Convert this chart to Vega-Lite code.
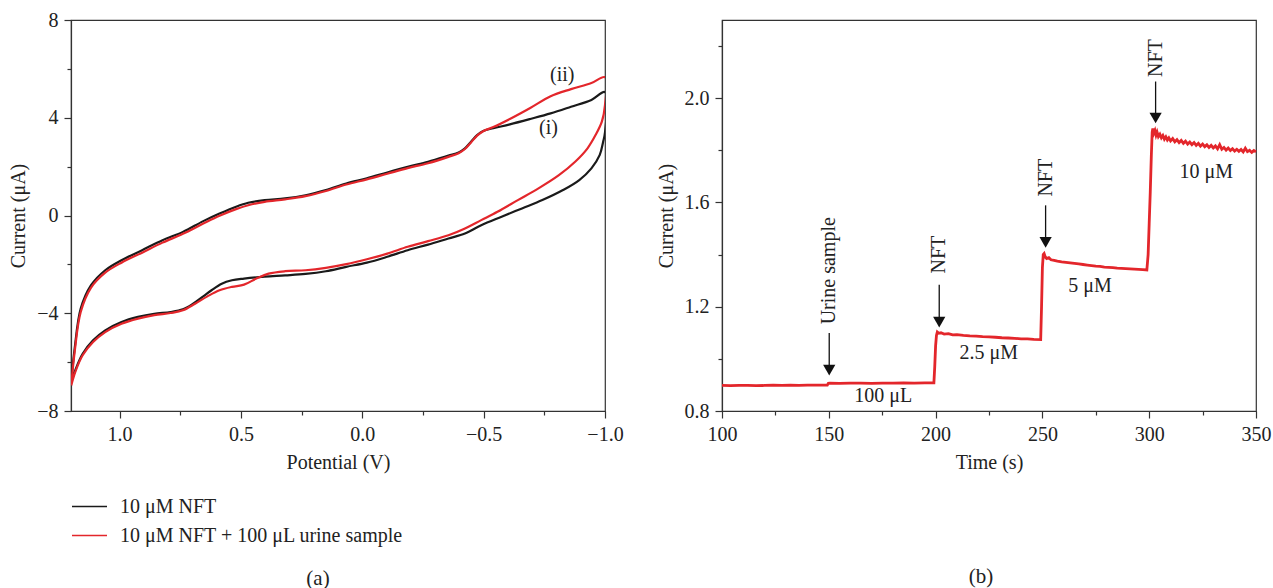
{
  "$schema": "https://vega.github.io/schema/vega-lite/v6.json",
  "padding": {"left": 8, "top": 9, "right": 0, "bottom": 0},
  "background": "white",
  "config": {
    "font": "Liberation Serif",
    "view": {"stroke": "#333333", "strokeWidth": 1.2},
    "axis": {
      "labelFont": "Liberation Serif", "titleFont": "Liberation Serif",
      "labelFontSize": 20, "titleFontSize": 20, "titleFontWeight": "normal",
      "labelColor": "#222222", "titleColor": "#222222",
      "domainColor": "#333333", "tickColor": "#333333", "domainWidth": 1.2, "tickWidth": 1.2,
      "grid": false, "labelPadding": 6, "labelFlush": false, "labelOverlap": false, "titlePadding": 8
    },
    "title": {"font": "Liberation Serif", "fontSize": 21, "fontWeight": "normal", "color": "#222222"}
  },
  "datasets": {
    "cv": [
      {"s":"i","v":1.199,"c":-6.82},{"s":"i","v":1.185,"c":-5.45},{"s":"i","v":1.16,"c":-3.81},{"s":"i","v":1.118,"c":-2.86},{"s":"i","v":1.059,"c":-2.24},{"s":"i","v":0.992,"c":-1.83},{"s":"i","v":0.907,"c":-1.42},{"s":"i","v":0.823,"c":-1.01},{"s":"i","v":0.739,"c":-0.67},{"s":"i","v":0.655,"c":-0.23},{"s":"i","v":0.588,"c":0.08},{"s":"i","v":0.52,"c":0.36},{"s":"i","v":0.47,"c":0.52},{"s":"i","v":0.402,"c":0.63},{"s":"i","v":0.318,"c":0.70},{"s":"i","v":0.234,"c":0.83},{"s":"i","v":0.15,"c":1.04},{"s":"i","v":0.066,"c":1.31},{"s":"i","v":-0.019,"c":1.52},{"s":"i","v":-0.103,"c":1.76},{"s":"i","v":-0.187,"c":1.99},{"s":"i","v":-0.271,"c":2.20},{"s":"i","v":-0.355,"c":2.45},{"s":"i","v":-0.397,"c":2.58},{"s":"i","v":-0.423,"c":2.75},{"s":"i","v":-0.448,"c":3.02},{"s":"i","v":-0.473,"c":3.29},{"s":"i","v":-0.498,"c":3.46},{"s":"i","v":-0.54,"c":3.57},{"s":"i","v":-0.608,"c":3.73},{"s":"i","v":-0.692,"c":3.95},{"s":"i","v":-0.776,"c":4.18},{"s":"i","v":-0.86,"c":4.45},{"s":"i","v":-0.944,"c":4.73},{"s":"i","v":-1.0,"c":5.05},
      {"s":"i","v":-1.0,"c":3.4},{"s":"i","v":-0.992,"c":3.0},{"s":"i","v":-0.978,"c":2.47},{"s":"i","v":-0.944,"c":1.93},{"s":"i","v":-0.894,"c":1.45},{"s":"i","v":-0.827,"c":1.04},{"s":"i","v":-0.742,"c":0.63},{"s":"i","v":-0.658,"c":0.29},{"s":"i","v":-0.574,"c":-0.05},{"s":"i","v":-0.49,"c":-0.40},{"s":"i","v":-0.423,"c":-0.74},{"s":"i","v":-0.355,"c":-0.94},{"s":"i","v":-0.271,"c":-1.19},{"s":"i","v":-0.187,"c":-1.42},{"s":"i","v":-0.103,"c":-1.69},{"s":"i","v":-0.019,"c":-1.93},{"s":"i","v":0.066,"c":-2.10},{"s":"i","v":0.15,"c":-2.28},{"s":"i","v":0.234,"c":-2.39},{"s":"i","v":0.318,"c":-2.45},{"s":"i","v":0.402,"c":-2.50},{"s":"i","v":0.487,"c":-2.58},{"s":"i","v":0.537,"c":-2.65},{"s":"i","v":0.579,"c":-2.79},{"s":"i","v":0.621,"c":-3.06},{"s":"i","v":0.655,"c":-3.31},{"s":"i","v":0.697,"c":-3.61},{"s":"i","v":0.739,"c":-3.84},{"s":"i","v":0.79,"c":-3.95},{"s":"i","v":0.857,"c":-4.02},{"s":"i","v":0.924,"c":-4.15},{"s":"i","v":0.992,"c":-4.36},{"s":"i","v":1.059,"c":-4.70},{"s":"i","v":1.109,"c":-5.11},{"s":"i","v":1.152,"c":-5.66},{"s":"i","v":1.18,"c":-6.27},{"s":"i","v":1.199,"c":-6.82},
      {"s":"ii","v":1.199,"c":-6.95},{"s":"ii","v":1.185,"c":-5.59},{"s":"ii","v":1.16,"c":-3.95},{"s":"ii","v":1.118,"c":-2.96},{"s":"ii","v":1.059,"c":-2.34},{"s":"ii","v":0.992,"c":-1.93},{"s":"ii","v":0.907,"c":-1.52},{"s":"ii","v":0.823,"c":-1.11},{"s":"ii","v":0.739,"c":-0.75},{"s":"ii","v":0.655,"c":-0.33},{"s":"ii","v":0.588,"c":-0.01},{"s":"ii","v":0.52,"c":0.26},{"s":"ii","v":0.47,"c":0.42},{"s":"ii","v":0.402,"c":0.56},{"s":"ii","v":0.318,"c":0.66},{"s":"ii","v":0.234,"c":0.79},{"s":"ii","v":0.15,"c":1.0},{"s":"ii","v":0.066,"c":1.27},{"s":"ii","v":-0.019,"c":1.48},{"s":"ii","v":-0.103,"c":1.71},{"s":"ii","v":-0.187,"c":1.94},{"s":"ii","v":-0.271,"c":2.14},{"s":"ii","v":-0.355,"c":2.40},{"s":"ii","v":-0.397,"c":2.55},{"s":"ii","v":-0.423,"c":2.72},{"s":"ii","v":-0.448,"c":2.99},{"s":"ii","v":-0.473,"c":3.27},{"s":"ii","v":-0.498,"c":3.45},{"s":"ii","v":-0.54,"c":3.62},{"s":"ii","v":-0.608,"c":3.95},{"s":"ii","v":-0.692,"c":4.40},{"s":"ii","v":-0.776,"c":4.88},{"s":"ii","v":-0.86,"c":5.17},{"s":"ii","v":-0.944,"c":5.42},{"s":"ii","v":-1.0,"c":5.66},
      {"s":"ii","v":-1.0,"c":4.52},{"s":"ii","v":-0.987,"c":3.84},{"s":"ii","v":-0.961,"c":3.29},{"s":"ii","v":-0.928,"c":2.75},{"s":"ii","v":-0.877,"c":2.20},{"s":"ii","v":-0.81,"c":1.65},{"s":"ii","v":-0.726,"c":1.11},{"s":"ii","v":-0.641,"c":0.63},{"s":"ii","v":-0.557,"c":0.15},{"s":"ii","v":-0.49,"c":-0.19},{"s":"ii","v":-0.423,"c":-0.53},{"s":"ii","v":-0.355,"c":-0.81},{"s":"ii","v":-0.271,"c":-1.05},{"s":"ii","v":-0.187,"c":-1.28},{"s":"ii","v":-0.103,"c":-1.56},{"s":"ii","v":-0.019,"c":-1.79},{"s":"ii","v":0.066,"c":-1.99},{"s":"ii","v":0.15,"c":-2.14},{"s":"ii","v":0.234,"c":-2.24},{"s":"ii","v":0.318,"c":-2.28},{"s":"ii","v":0.386,"c":-2.38},{"s":"ii","v":0.436,"c":-2.58},{"s":"ii","v":0.487,"c":-2.83},{"s":"ii","v":0.537,"c":-2.92},{"s":"ii","v":0.588,"c":-3.06},{"s":"ii","v":0.638,"c":-3.31},{"s":"ii","v":0.689,"c":-3.61},{"s":"ii","v":0.739,"c":-3.88},{"s":"ii","v":0.79,"c":-3.99},{"s":"ii","v":0.857,"c":-4.08},{"s":"ii","v":0.924,"c":-4.22},{"s":"ii","v":0.992,"c":-4.43},{"s":"ii","v":1.059,"c":-4.77},{"s":"ii","v":1.109,"c":-5.18},{"s":"ii","v":1.152,"c":-5.72},{"s":"ii","v":1.18,"c":-6.34},{"s":"ii","v":1.199,"c":-6.95}
    ],
    "cvlab": [
      {"v":-0.767,"c":3.6,"lab":"(i)"},
      {"v":-0.824,"c":5.76,"lab":"(ii)"}
    ],
    "ca": [
      {"t":100,"c":0.898},{"t":104,"c":0.897},{"t":108,"c":0.898},{"t":112,"c":0.898},{"t":116,"c":0.897},{"t":120,"c":0.898},{"t":124,"c":0.899},{"t":128,"c":0.898},{"t":132,"c":0.899},{"t":136,"c":0.898},{"t":140,"c":0.899},{"t":144,"c":0.899},{"t":149.3,"c":0.899},{"t":149.8,"c":0.906},{"t":150.5,"c":0.907},{"t":155,"c":0.906},{"t":160,"c":0.907},{"t":165,"c":0.907},{"t":170,"c":0.906},{"t":175,"c":0.907},{"t":180,"c":0.907},{"t":185,"c":0.908},{"t":190,"c":0.907},{"t":195,"c":0.908},{"t":199.2,"c":0.908},{"t":199.6,"c":0.97},{"t":200.0,"c":1.05},{"t":200.4,"c":1.09},{"t":200.8,"c":1.103},{"t":201.5,"c":1.098},{"t":202.5,"c":1.1},{"t":204,"c":1.095},{"t":206,"c":1.097},{"t":208,"c":1.092},{"t":210,"c":1.093},{"t":213,"c":1.09},{"t":216,"c":1.088},{"t":219,"c":1.087},{"t":222,"c":1.085},{"t":225,"c":1.084},{"t":228,"c":1.083},{"t":231,"c":1.081},{"t":234,"c":1.080},{"t":237,"c":1.079},{"t":240,"c":1.077},{"t":243,"c":1.077},{"t":246,"c":1.075},{"t":249.2,"c":1.074},{"t":249.6,"c":1.2},{"t":250.0,"c":1.35},{"t":250.4,"c":1.40},{"t":250.8,"c":1.404},{"t":251.3,"c":1.392},{"t":252,"c":1.385},{"t":253,"c":1.388},{"t":254,"c":1.38},{"t":255.5,"c":1.378},{"t":257,"c":1.375},{"t":259,"c":1.372},{"t":261,"c":1.37},{"t":263,"c":1.368},{"t":265,"c":1.366},{"t":267,"c":1.364},{"t":269,"c":1.362},{"t":271,"c":1.36},{"t":273,"c":1.358},{"t":275,"c":1.356},{"t":277,"c":1.355},{"t":279,"c":1.352},{"t":281,"c":1.351},{"t":283,"c":1.35},{"t":285,"c":1.348},{"t":287,"c":1.347},{"t":289,"c":1.346},{"t":291,"c":1.345},{"t":293,"c":1.344},{"t":295,"c":1.343},{"t":297,"c":1.342},{"t":298.9,"c":1.341},{"t":299.5,"c":1.4},{"t":300.0,"c":1.52},{"t":300.5,"c":1.64},{"t":301.0,"c":1.78},{"t":301.4,"c":1.87},{"t":301.7,"c":1.884},{"t":302.2,"c":1.866},{"t":302.7,"c":1.876},{"t":303.2,"c":1.858},{"t":303.7,"c":1.870},{"t":304.3,"c":1.853},{"t":305,"c":1.862},{"t":305.7,"c":1.848},{"t":306.4,"c":1.857},{"t":307.1,"c":1.843},{"t":307.8,"c":1.852},{"t":308.5,"c":1.84},{"t":309.2,"c":1.848},{"t":310,"c":1.836},{"t":311,"c":1.845},{"t":312,"c":1.833},{"t":313,"c":1.841},{"t":314,"c":1.83},{"t":315,"c":1.838},{"t":316,"c":1.827},{"t":317,"c":1.835},{"t":318,"c":1.824},{"t":319,"c":1.832},{"t":320,"c":1.822},{"t":321,"c":1.83},{"t":322,"c":1.819},{"t":323,"c":1.827},{"t":324,"c":1.816},{"t":325,"c":1.824},{"t":326,"c":1.814},{"t":327,"c":1.821},{"t":328,"c":1.811},{"t":329,"c":1.819},{"t":330,"c":1.809},{"t":331,"c":1.817},{"t":332,"c":1.806},{"t":333,"c":1.822},{"t":334,"c":1.804},{"t":335,"c":1.811},{"t":336,"c":1.801},{"t":337,"c":1.809},{"t":338,"c":1.799},{"t":339,"c":1.806},{"t":340,"c":1.797},{"t":341,"c":1.804},{"t":342,"c":1.796},{"t":343,"c":1.803},{"t":344,"c":1.794},{"t":345,"c":1.808},{"t":346,"c":1.795},{"t":347,"c":1.8},{"t":348,"c":1.792},{"t":349,"c":1.799},{"t":350,"c":1.794}
    ],
    "arrows": [
      {"t":150.2,"top":1.099,"head":0.957},
      {"t":201.7,"top":1.284,"head":1.141},
      {"t":251.5,"top":1.589,"head":1.447},
      {"t":303.0,"top":2.064,"head":1.924}
    ],
    "rot": [
      {"t":150.3,"c":1.338,"lab":"Urine sample"},
      {"t":201.8,"c":1.4,"lab":"NFT"},
      {"t":251.5,"c":1.695,"lab":"NFT"},
      {"t":303.0,"c":2.154,"lab":"NFT"}
    ],
    "flat": [
      {"t":175.5,"c":0.857,"lab":"100 μL"},
      {"t":224.9,"c":1.024,"lab":"2.5 μM"},
      {"t":272.3,"c":1.28,"lab":"5 μM"},
      {"t":326.7,"c":1.716,"lab":"10 μM"}
    ]
  },
  "hconcat": [
    {
      "width": 534,
      "height": 391,
      "title": {"text": "(a)", "orient": "bottom", "offset": 22, "dx": -20},
      "layer": [
        {
          "data": {"name": "cv"},
          "mark": {"type": "line", "strokeWidth": 2.2, "interpolate": "catmull-rom", "clip": true},
          "encoding": {
            "x": {
              "field": "v", "type": "quantitative",
              "scale": {"domain": [-1.0, 1.2], "reverse": true, "nice": false, "zero": false},
              "axis": {
                "title": "Potential (V)",
                "values": [1, 0.75, 0.5, 0.25, 0, -0.25, -0.5, -0.75, -1],
                "labelExpr": "abs(datum.value*2 - round(datum.value*2)) < 0.000001 ? format(datum.value, '.1f') : ''",
                "tickSize": {"condition": {"test": "abs(datum.value*2 - round(datum.value*2)) < 0.000001", "value": 7}, "value": 4}
              }
            },
            "y": {
              "field": "c", "type": "quantitative",
              "scale": {"domain": [-8, 8], "nice": false, "zero": false},
              "axis": {
                "title": "Current (μA)",
                "values": [-8, -6, -4, -2, 0, 2, 4, 6, 8],
                "labelExpr": "datum.value % 4 === 0 ? format(datum.value, 'd') : ''",
                "tickSize": {"condition": {"test": "datum.value % 4 === 0", "value": 7}, "value": 4}
              }
            },
            "color": {
              "field": "s", "type": "nominal",
              "scale": {"domain": ["i", "ii"], "range": ["#1a1a1a", "#e3262b"]},
              "legend": {
                "title": null, "orient": "none", "legendX": 0, "legendY": 468, "direction": "vertical",
                "symbolType": "stroke", "symbolSize": 1225, "symbolStrokeWidth": 1.6,
                "labelFont": "Liberation Serif", "labelFontSize": 20, "labelColor": "#222222", "labelLimit": 0, "labelOffset": 12,
                "padding": 0, "rowPadding": -2,
                "labelExpr": "datum.value == 'i' ? '10 μM NFT' : '10 μM NFT + 100 μL urine sample'"
              }
            },
            "order": {"value": null}
          }
        },
        {
          "data": {"name": "cvlab"},
          "mark": {"type": "text", "fontSize": 20, "font": "Liberation Serif", "color": "#222222", "align": "center", "baseline": "middle"},
          "encoding": {
            "x": {"field": "v", "type": "quantitative"},
            "y": {"field": "c", "type": "quantitative"},
            "text": {"field": "lab"}
          }
        }
      ]
    },
    {
      "width": 534,
      "height": 391,
      "title": {"text": "(b)", "orient": "bottom", "offset": 94, "dx": -8},
      "layer": [
        {
          "data": {"name": "ca"},
          "mark": {"type": "line", "strokeWidth": 2.8, "color": "#e3262b"},
          "encoding": {
            "x": {
              "field": "t", "type": "quantitative",
              "scale": {"domain": [100, 350], "nice": false, "zero": false},
              "axis": {
                "title": "Time (s)",
                "values": [100, 125, 150, 175, 200, 225, 250, 275, 300, 325, 350],
                "labelExpr": "datum.value % 50 === 0 ? format(datum.value, 'd') : ''",
                "tickSize": {"condition": {"test": "datum.value % 50 === 0", "value": 7}, "value": 4}
              }
            },
            "y": {
              "field": "c", "type": "quantitative",
              "scale": {"domain": [0.8, 2.3], "nice": false, "zero": false},
              "axis": {
                "title": "Current (μA)",
                "values": [0.8, 1.0, 1.2, 1.4, 1.6, 1.8, 2.0, 2.2],
                "labelExpr": "abs((datum.value-0.8)/0.4 - round((datum.value-0.8)/0.4)) < 0.000001 ? format(datum.value, '.1f') : ''",
                "tickSize": {"condition": {"test": "abs((datum.value-0.8)/0.4 - round((datum.value-0.8)/0.4)) < 0.000001", "value": 7}, "value": 4}
              }
            }
          }
        },
        {
          "data": {"name": "arrows"},
          "mark": {"type": "rule", "color": "#111111", "strokeWidth": 1.3},
          "encoding": {
            "x": {"field": "t", "type": "quantitative"},
            "y": {"field": "top", "type": "quantitative"},
            "y2": {"field": "head"}
          }
        },
        {
          "data": {"name": "arrows"},
          "mark": {"type": "point", "shape": "triangle-down", "filled": true, "size": 150, "color": "#111111", "opacity": 1},
          "encoding": {
            "x": {"field": "t", "type": "quantitative"},
            "y": {"field": "head", "type": "quantitative"}
          }
        },
        {
          "data": {"name": "rot"},
          "mark": {"type": "text", "angle": 270, "fontSize": 20, "font": "Liberation Serif", "color": "#222222", "align": "center", "baseline": "middle"},
          "encoding": {
            "x": {"field": "t", "type": "quantitative"},
            "y": {"field": "c", "type": "quantitative"},
            "text": {"field": "lab"}
          }
        },
        {
          "data": {"name": "flat"},
          "mark": {"type": "text", "fontSize": 20, "font": "Liberation Serif", "color": "#222222", "align": "center", "baseline": "middle"},
          "encoding": {
            "x": {"field": "t", "type": "quantitative"},
            "y": {"field": "c", "type": "quantitative"},
            "text": {"field": "lab"}
          }
        }
      ]
    }
  ],
  "spacing": 117,
  "bounds": "flush",
  "resolve": {"scale": {"color": "independent"}, "legend": {"color": "independent"}}
}
